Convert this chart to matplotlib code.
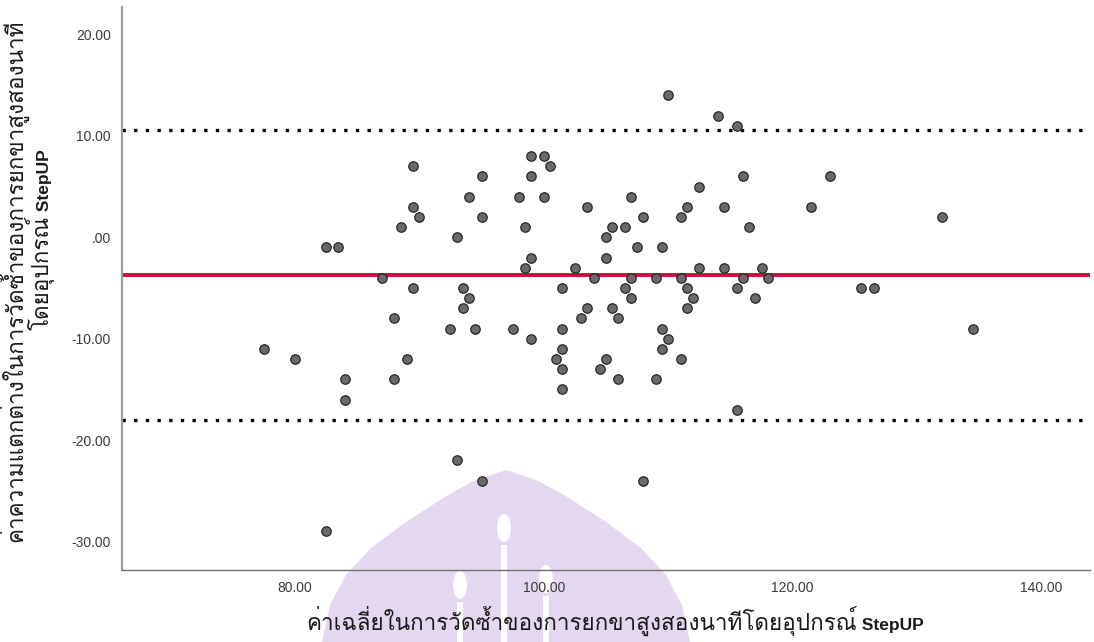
import matplotlib
matplotlib.use("Agg")
import matplotlib.pyplot as plt
from matplotlib import font_manager
from matplotlib.ft2font import FT2Font
from matplotlib.patches import Polygon, Ellipse, Rectangle

# mean of the two StepUP measurements (x) and their difference (y)
mean_values = [
    89.5, 89.5, 90.0, 88.5, 82.5, 83.5, 87.0, 89.5, 88.0, 77.5, 80.0, 89.0, 84.0, 88.0, 84.0,
    110.0, 114.0, 115.5, 99.0, 100.0, 100.5, 95.0, 99.0, 116.0, 94.0, 98.0, 100.0, 107.0,
    112.5, 103.5, 111.5, 114.5, 95.0, 108.0, 111.0, 98.5, 105.5, 106.5, 116.5, 93.0, 105.0,
    107.5, 109.5, 99.0, 105.0, 98.5, 102.5, 112.5, 114.5, 117.5, 104.0, 107.0, 109.0, 111.0,
    116.0, 118.0, 93.5, 101.5, 106.5, 111.5, 115.5, 94.0, 107.0, 112.0, 117.0, 93.5, 103.5,
    105.5, 111.5, 103.0, 106.0, 92.5, 94.5, 97.5, 101.5, 109.5, 99.0, 110.0, 101.5, 109.5,
    101.0, 105.0, 111.0, 101.5, 104.5, 106.0, 109.0, 101.5, 115.5,
    123.0, 121.5, 132.0, 125.5, 126.5, 134.5,
    93.0, 95.0, 82.5, 108.0,
]
diff_values = [
    7, 3, 2, 1, -1, -1, -4, -5, -8, -11, -12, -12, -14, -14, -16,
    14, 12, 11, 8, 8, 7, 6, 6, 6, 4, 4, 4, 4,
    5, 3, 3, 3, 2, 2, 2, 1, 1, 1, 1, 0, 0,
    -1, -1, -2, -2, -3, -3, -3, -3, -3, -4, -4, -4, -4,
    -4, -4, -5, -5, -5, -5, -5, -6, -6, -6, -6, -7, -7,
    -7, -7, -8, -8, -9, -9, -9, -9, -9, -10, -10, -11, -11,
    -12, -12, -12, -13, -13, -14, -14, -15, -17,
    6, 3, 2, -5, -5, -9,
    -22, -24, -29, -24,
]

mean_diff = -3.74
upper_loa = 10.53
lower_loa = -18.01

x_ticks = [80, 100, 120, 140]
x_tick_labels = ["80.00", "100.00", "120.00", "140.00"]
y_ticks = [20, 10, 0, -10, -20, -30]
y_tick_labels = ["20.00", "10.00", ".00", "-10.00", "-20.00", "-30.00"]

x_label_thai = "ค่าเฉลี่ยในการวัดซ้ำของการยกขาสูงสองนาทีโดยอุปกรณ์"
y_label_line1 = "ค่าความแตกต่างในการวัดซ้ำของการยกขาสูงสองนาที"
y_label_line2 = "โดยอุปกรณ์"
device_name = "StepUP"

W, H = 1094, 642


def find_thai_font():
    for entry in font_manager.fontManager.ttflist:
        try:
            if FT2Font(entry.fname).get_char_index(0x0E01):
                return entry.name
        except Exception:
            continue
    return "DejaVu Sans"


THAI_FONT = find_thai_font()
LATIN = "Liberation Sans"


def fx(px):
    return px / W


def fy(py):
    return 1 - py / H


def draw_watermark(fig):
    # faint university crest behind the lower part of the chart
    cx = 506
    outline = [(0, 470), (30, 480), (58, 495), (100, 522), (135, 548),
               (160, 575), (176, 605), (184, 642)]
    left = [(fx(cx - dx), fy(y)) for dx, y in reversed(outline)]
    right = [(fx(cx + dx), fy(y)) for dx, y in outline]
    fig.add_artist(Polygon(left + right, closed=True,
                           transform=fig.transFigure, facecolor="#e4d8f1",
                           edgecolor="none", zorder=-3))
    for x, top in [(504, 515), (460, 572), (546, 566)]:
        fig.add_artist(Ellipse((fx(x), fy(top + 13)), 14 / W, 28 / H,
                               transform=fig.transFigure, facecolor="white",
                               edgecolor="none", zorder=-2))
        fig.add_artist(Rectangle((fx(x - 3), 0), 6 / W, fy(top + 30),
                                 transform=fig.transFigure, facecolor="white",
                                 edgecolor="none", zorder=-2))


fig = plt.figure(figsize=(W / 100, H / 100), dpi=100, facecolor="white")
draw_watermark(fig)

ax = fig.add_axes([fx(122), fy(570), fx(1090) - fx(122), fy(7) - fy(570)])
ax.set_facecolor("none")

ax.axhline(upper_loa, color="black", lw=2.4, linestyle=(0, (1, 2.5)), zorder=2)
ax.axhline(lower_loa, color="black", lw=2.4, linestyle=(0, (1, 2.5)), zorder=2)
ax.axhline(mean_diff, color="#d6083b", lw=2.8, zorder=2)

ax.scatter(mean_values, diff_values, s=46, color="#6a6a6a",
           edgecolors="#262626", linewidths=0.9, zorder=3)

ax.set_xlim(66.1, 143.9)
ax.set_ylim(-32.8, 22.7)

ax.set_xticks(x_ticks)
ax.set_xticklabels(x_tick_labels)
ax.set_yticks(y_ticks)
ax.set_yticklabels(y_tick_labels)
ax.tick_params(length=0, labelsize=10, labelcolor="#3a3a3a", pad=8)
for label in ax.get_xticklabels() + ax.get_yticklabels():
    label.set_family(LATIN)

for side in ["top", "right"]:
    ax.spines[side].set_visible(False)
ax.spines["left"].set_color("#9c9c9c")
ax.spines["left"].set_linewidth(1.6)
ax.spines["bottom"].set_color("#707070")
ax.spines["bottom"].set_linewidth(1.0)

label_color = "#1a1a1a"
thai_size = 16.2
latin_size = 12.5

# x axis title: Thai part + bold device name
fig.text(fx(857), fy(630), x_label_thai, ha="right", va="baseline",
         fontsize=thai_size, color=label_color, family=[THAI_FONT, LATIN])
fig.text(fx(857), fy(630), " " + device_name, ha="left", va="baseline",
         fontsize=latin_size, color=label_color, family=LATIN, fontweight="bold")

# y axis title, two lines
fig.text(fx(22), fy(281), y_label_line1, rotation=90, rotation_mode="anchor",
         ha="center", va="baseline", fontsize=thai_size, color=label_color,
         family=[THAI_FONT, LATIN])
fig.text(fx(49), fy(216), y_label_line2, rotation=90, rotation_mode="anchor",
         ha="right", va="baseline", fontsize=thai_size, color=label_color,
         family=[THAI_FONT, LATIN])
fig.text(fx(49), fy(216), " " + device_name, rotation=90, rotation_mode="anchor",
         ha="left", va="baseline", fontsize=latin_size, color=label_color,
         family=LATIN, fontweight="bold")

fig.savefig("out.png", dpi=100, facecolor="white")
